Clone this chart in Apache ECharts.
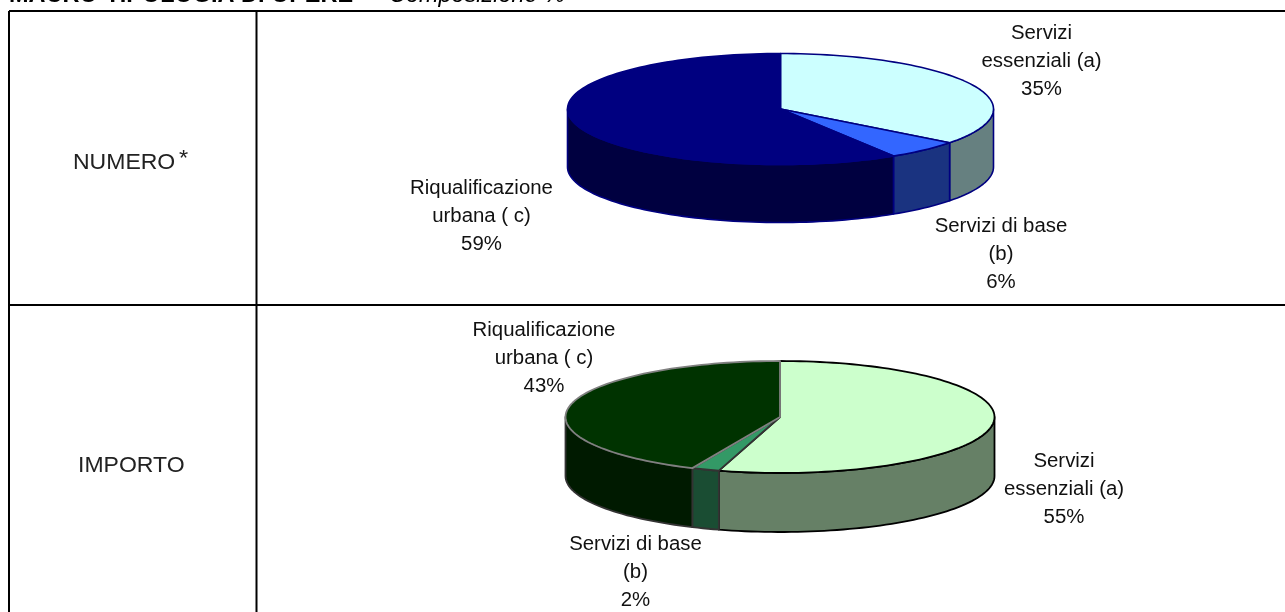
<!DOCTYPE html>
<html>
<head>
<meta charset="utf-8">
<style>
html, body { margin: 0; padding: 0; background: #fff; }
#chart { width: 1285px; height: 612px; }
</style>
<script src="https://cdn.jsdelivr.net/npm/echarts@6/dist/echarts.min.js"></script>
</head>
<body>
<div id="chart"></div>
<script>
const labelsNumero = ['Servizi\nessenziali (a)', 'Servizi di base\n(b)', 'Riqualificazione\nurbana ( c)']
const sharesNumero = [35.4, 5.7, 58.9]
const labelsImporto = ['Servizi\nessenziali (a)', 'Servizi di base\n(b)', 'Riqualificazione\nurbana ( c)']
const sharesImporto = [54.6, 2.1, 43.3]

const font = '"Liberation Sans", Arial, sans-serif'
// the source picture is a little wider than Liberation at these sizes
const stretch = 1.02

// one style per pie: top colours, side colours, outline per slice, label anchor per slice
const pieNumero = {
    cx: 780.5, cy: 109, rx: 213, ry: 55.5, depth: 58,
    top: ['#ccffff', '#3366ff', '#000080'],
    side: ['#668080', '#1a3380', '#000040'],
    line: ['#000080', '#000080', '#000080'],
    sideLine: ['#000080', '#000080', '#000080'],
    lineWidth: 1.6,
    anchors: [[1041.5, 61], [1001, 254], [481.5, 216]],
}
const pieImporto = {
    cx: 780, cy: 417, rx: 214.5, ry: 56, depth: 59,
    top: ['#ccffcc', '#339966', '#003300'],
    side: ['#668066', '#1a4d33', '#001a00'],
    line: ['#000000', '#333333', '#808080'],
    sideLine: ['#000000', '#333333', '#333333'],
    lineWidth: 1.8,
    anchors: [[1064, 489], [635.5, 572], [544, 358]],
}

const tableLines = [
    [9, 11, 1285, 11],
    [9, 11, 9, 612],
    [256.5, 11, 256.5, 612],
    [9, 305, 1285, 305],
]

function rowsOf(shares) {
    let sum = 0
    return shares.map(v => {
        const row = [sum, sum + v, v]
        sum += v
        return row
    })
}

// clockwise from 12 o'clock, squeezed into an ellipse
function pt(p, share, dy) {
    const a = share / 100 * Math.PI * 2
    return [p.cx + p.rx * Math.sin(a), p.cy - p.ry * Math.cos(a) + (dy || 0)]
}

function arcPts(p, from, to, dy) {
    const pts = []
    const n = Math.max(2, Math.ceil((to - from) * 2))
    for (let i = 0; i <= n; i++) {
        pts.push(pt(p, from + (to - from) * i / n, dy))
    }
    return pts
}

function pieSeries(p, shares, labels) {
    return {
        type: 'custom',
        coordinateSystem: 'none',
        silent: true,
        animation: false,
        data: rowsOf(shares),
        renderItem(params, api) {
            const i = params.dataIndex
            const from = api.value(0)
            const to = api.value(1)
            const share = api.value(2)
            const children = []
            // visible wall is only the front half of the rim (25..75 of the turn)
            const wallFrom = Math.max(from, 25)
            const wallTo = Math.min(to, 75)
            if (wallTo > wallFrom) {
                const upper = arcPts(p, wallFrom, wallTo, 0)
                const lower = arcPts(p, wallFrom, wallTo, p.depth).reverse()
                children.push({
                    type: 'polygon',
                    shape: { points: upper.concat(lower) },
                    style: { fill: p.side[i], stroke: p.sideLine[i], lineWidth: p.lineWidth, lineJoin: 'round' },
                })
            }
            const top = [[p.cx, p.cy]].concat(arcPts(p, from, to, 0))
            children.push({
                type: 'polygon',
                shape: { points: top },
                style: { fill: p.top[i], stroke: p.line[i], lineWidth: p.lineWidth, lineJoin: 'round' },
            })
            children.push({
                type: 'text',
                x: p.anchors[i][0],
                y: p.anchors[i][1],
                scaleX: stretch,
                style: {
                    text: labels[i] + '\n' + Math.round(share) + '%',
                    font: '20px ' + font,
                    lineHeight: 28,
                    fill: '#111',
                    align: 'center',
                    verticalAlign: 'middle',
                },
            })
            return { type: 'group', children: children }
        },
    }
}

const chart = echarts.init(document.getElementById('chart'))
chart.setOption({
    backgroundColor: '#fff',
    animation: false,
    graphic: [
        ...tableLines.map(l => ({
            type: 'line',
            shape: { x1: l[0], y1: l[1], x2: l[2], y2: l[3] },
            style: { stroke: '#000', lineWidth: 2 },
        })),
        {
            type: 'text',
            x: 9,
            y: -16,
            scaleX: stretch,
            style: { text: 'MACRO-TIPOLOGIA DI OPERE', font: 'bold 23px ' + font, fill: '#000' },
        },
        {
            type: 'text',
            x: 389,
            y: -16,
            scaleX: stretch,
            style: { text: 'Composizione %', font: 'italic 23px ' + font, fill: '#000' },
        },
        {
            type: 'text',
            x: 73,
            y: 152,
            scaleX: 1.07,
            style: { text: 'NUMERO', font: '21.5px ' + font, fill: '#222' },
        },
        {
            type: 'text',
            x: 179,
            y: 148,
            scaleX: 1.07,
            style: { text: '*', font: '22px ' + font, fill: '#222' },
        },
        {
            type: 'text',
            x: 78,
            y: 455,
            scaleX: 1.07,
            style: { text: 'IMPORTO', font: '21.5px ' + font, fill: '#222' },
        },
    ],
    series: [
        pieSeries(pieNumero, sharesNumero, labelsNumero),
        pieSeries(pieImporto, sharesImporto, labelsImporto),
    ],
})
</script>
</body>
</html>
